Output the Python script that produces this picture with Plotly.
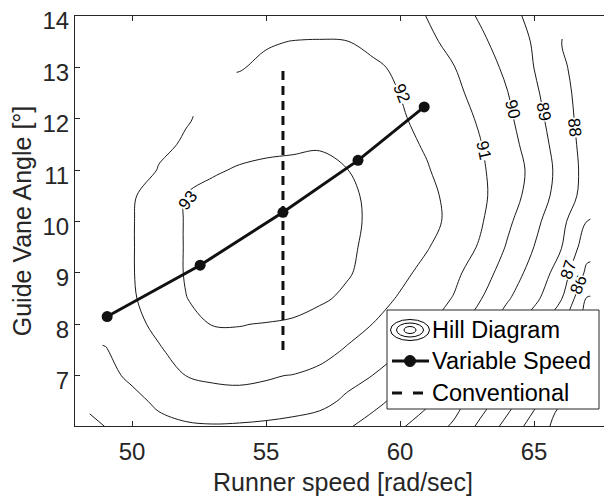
import plotly.graph_objects as go

N = None
# Hill diagram grid (efficiency %)
grid_speed = [48, 49, 50, 51, 52, 53, 54, 55, 56, 57, 58, 59, 60, 61, 62, 63, 64, 65, 66, 67, 68]
grid_angle = [6.0, 6.5, 7.0, 7.5, 8.0, 8.5, 9.0, 9.5, 10.0, 10.5, 11.0, 11.5, 12.0, 12.5, 13.0, 13.5, 14.0]
eff = [
    [89.3, 90.0, 90.4, 90.7, 90.85, 90.9, 90.85, 90.75, 90.6, 90.4, 90.1, 89.6, 89.1, 88.5, 87.85, 86.75, 85.65, 84.55, 83.6, N, N],
    [N, 90.4, 90.7, 91.2, 91.55, 91.75, 91.8, 91.75, 91.6, 91.35, 90.8, 90.27, 89.72, 89.17, 88.4, 87.47, 86.4, 85.24, 84.1, N, N],
    [N, 90.7, 91.2, 91.6, 92.0, 92.1, 92.12, 92.06, 91.97, 91.75, 91.4, 90.98, 90.3, 89.63, 89.02, 88.15, 87.1, 85.94, 84.6, N, N],
    [N, 90.95, 91.45, 91.92, 92.35, 92.65, 92.8, 92.8, 92.65, 92.35, 91.92, 91.5, 91.08, 90.31, 89.52, 88.74, 87.83, 86.7, 85.2, N, N],
    [N, 91.3, 91.75, 92.21, 92.62, 93.03, 93.02, 92.97, 92.9, 92.6, 92.4, 91.98, 91.56, 91.13, 90.36, 89.43, 88.48, 87.44, 86.14, 84.6, N],
    [N, 91.55, 91.9, 92.45, 92.98, 93.25, 93.38, 93.4, 93.3, 93.15, 92.82, 92.36, 91.91, 91.44, 90.95, 90.05, 89.1, 88.25, 87.09, 84.9, N],
    [N, 91.6, 91.95, 92.5, 93.05, 93.3, 93.42, 93.45, 93.4, 93.3, 93.1, 92.67, 92.22, 91.74, 91.23, 90.48, 89.53, 88.65, 87.57, 85.74, N],
    [N, 91.6, 91.95, 92.5, 93.05, 93.3, 93.42, 93.45, 93.4, 93.3, 93.15, 92.8, 92.43, 92.06, 91.51, 90.9, 89.91, 88.99, 88.06, 86.4, N],
    [N, 91.6, 91.95, 92.5, 93.05, 93.3, 93.4, 93.42, 93.38, 93.3, 93.18, 92.87, 92.55, 92.23, 91.81, 91.1, 90.19, 89.26, 88.28, 86.97, N],
    [N, 91.5, 91.9, 92.48, 93.02, 93.25, 93.35, 93.37, 93.35, 93.27, 93.15, 92.85, 92.52, 92.2, 91.77, 91.2, 90.46, 89.6, 88.59, 87.6, N],
    [N, N, 91.05, 92.09, 92.47, 92.9, 93.08, 93.15, 93.15, 93.15, 93.02, 92.71, 92.39, 92.06, 91.62, 91.13, 90.51, 89.74, 88.68, 87.65, N],
    [N, N, N, 91.7, 92.15, 92.5, 92.7, 92.83, 92.9, 92.95, 92.8, 92.52, 92.23, 91.91, 91.47, 91.03, 90.37, 89.55, 88.57, 87.6, N],
    [N, N, N, N, 91.9, 92.3, 92.5, 92.6, 92.65, 92.65, 92.55, 92.35, 92.1, 91.74, 91.34, 90.9, 90.2, 89.35, 88.44, 87.55, N],
    [N, N, N, N, N, N, 92.25, 92.35, 92.4, 92.4, 92.32, 92.18, 91.99, 91.6, 91.21, 90.69, 90.03, 89.17, 88.34, 87.5, N],
    [N, N, N, N, N, N, 91.95, 92.15, 92.25, 92.28, 92.22, 92.12, 91.87, 91.45, 91.03, 90.45, 89.81, 88.99, 88.17, 87.5, N],
    [N, N, N, N, N, N, N, 91.93, 92.02, 92.04, 92.02, 91.81, 91.5, 91.19, 90.76, 90.18, 89.56, 88.91, 88.02, 87.4, N],
    [N, N, N, N, N, N, N, 91.45, 91.55, 91.6, 91.55, 91.4, 91.22, 90.99, 90.45, 89.89, 89.3, 88.75, N, N, N],
]
contour_levels = [86, 87, 88, 89, 90, 91, 92, 93]   # labelled levels

# Variable speed operating line
vs_speed = [49.07, 52.54, 55.63, 58.43, 60.9]
vs_angle = [8.15, 9.15, 10.18, 11.19, 12.23]

# Conventional (fixed speed) operating line
conv_speed = [55.63, 55.63]
conv_angle = [7.5, 13.0]

x_ticks = [50, 55, 60, 65]
y_ticks = [7, 8, 9, 10, 11, 12, 13, 14]

FONT = "Liberation Sans, Arial, Helvetica, sans-serif"
AX = "#262626"

fig = go.Figure()
fig.add_trace(go.Contour(
    x=grid_speed, y=grid_angle, z=eff,
    autocontour=False,
    contours=dict(start=84, end=93, size=1, coloring="none", showlabels=False),
    line=dict(color="black", width=0.9),
    connectgaps=False, showscale=False, hoverinfo="skip", name="Hill Diagram",
))
fig.add_trace(go.Scatter(
    x=vs_speed, y=vs_angle, mode="lines+markers", name="Variable Speed",
    line=dict(color="#111111", width=3), marker=dict(size=11, color="#111111"),
))
fig.add_trace(go.Scatter(
    x=conv_speed, y=conv_angle, mode="lines", name="Conventional",
    line=dict(color="#111111", width=3, dash="9px,6px"),
))

# page offset of the plot div (browser body margin)
OFF = 8
FW, FH = 612 - OFF, 501 - OFF
# plot-area edges in page pixels
L, R, T, B = 75, 611, 16, 426

def px(v):
    return (v - L) / (R - L)

def py(v):
    return (B - v) / (B - T)

shapes = []
# legend box
shapes.append(dict(type="rect", xref="paper", yref="paper", x0=px(387), x1=px(599), y0=py(409), y1=py(310),
                   fillcolor="white", line=dict(color=AX, width=1), layer="above"))
# concentric ellipse icon
for rx, ry in [(19.5, 10.5), (13.5, 7.0), (6.0, 3.5)]:
    shapes.append(dict(type="circle", xref="paper", yref="paper",
                       x0=px(410 - rx), x1=px(410 + rx), y0=py(330 + ry), y1=py(330 - ry),
                       line=dict(color="black", width=1), layer="above"))
# variable speed icon
shapes.append(dict(type="line", xref="paper", yref="paper", x0=px(392), x1=px(429), y0=py(361), y1=py(361),
                   line=dict(color="#111111", width=3), layer="above"))
shapes.append(dict(type="circle", xref="paper", yref="paper", x0=px(404.5), x1=px(415.5), y0=py(366.5), y1=py(355.5),
                   fillcolor="#111111", line=dict(color="#111111", width=1), layer="above"))
# conventional icon
for a, b in [(392, 402), (413, 423)]:
    shapes.append(dict(type="line", xref="paper", yref="paper", x0=px(a), x1=px(b), y0=py(393), y1=py(393),
                       line=dict(color="#111111", width=3), layer="above"))

annotations = []
# inline contour labels (placed where the reference shows them)
label_place = {93: (188, 201, -51), 92: (401, 93, 69), 91: (483, 150, 78), 90: (512, 109, 77),
               89: (544, 111, 80), 88: (575, 127, 84), 87: (568, 270, -72), 86: (578, 285, -68)}
for lev in contour_levels:
    lx, ly, ang = label_place[lev]
    annotations.append(dict(text=str(lev), xref="paper", yref="paper", x=px(lx), y=py(ly),
                            xanchor="center", yanchor="middle", showarrow=False, textangle=ang,
                            bgcolor="white", borderpad=0,
                            font=dict(size=17, color="black", family=FONT)))

for label, yy in [("Hill Diagram", 330), ("Variable Speed", 361), ("Conventional", 393)]:
    annotations.append(dict(text=label, xref="paper", yref="paper", x=px(430), y=py(yy),
                            xanchor="left", yanchor="middle", showarrow=False,
                            font=dict(size=23.5, color="black", family=FONT)))

fig.update_layout(
    width=FW, height=FH,
    margin=dict(l=L - OFF, r=612 - R, t=T - OFF, b=FH - (B - OFF), autoexpand=False),
    paper_bgcolor="white", plot_bgcolor="white",
    showlegend=False,
    shapes=shapes, annotations=annotations,
    font=dict(family=FONT, color=AX),
)
fig.update_xaxes(
    range=[47.87, 67.87], tickvals=x_ticks, ticks="inside", ticklen=5, tickcolor=AX,
    showline=True, linecolor=AX, linewidth=1, mirror="ticks", showgrid=False, zeroline=False,
    tickfont=dict(size=24, color=AX, family=FONT), ticklabelstandoff=4,
    title=dict(text="Runner speed [rad/sec]", font=dict(size=25, color=AX, family=FONT), standoff=9),
)
fig.update_yaxes(
    range=[6.02, 14], tickvals=y_ticks, ticks="inside", ticklen=5, tickcolor=AX,
    showline=True, linecolor=AX, linewidth=1, mirror="ticks", showgrid=False, zeroline=False,
    tickfont=dict(size=24, color=AX, family=FONT), ticklabelstandoff=0, ticklabelshift=5,
    ticklabeloverflow="allow",
    title=dict(text="Guide Vane Angle [°]", font=dict(size=25, color=AX, family=FONT), standoff=7),
)

fig.write_html("out.html")
